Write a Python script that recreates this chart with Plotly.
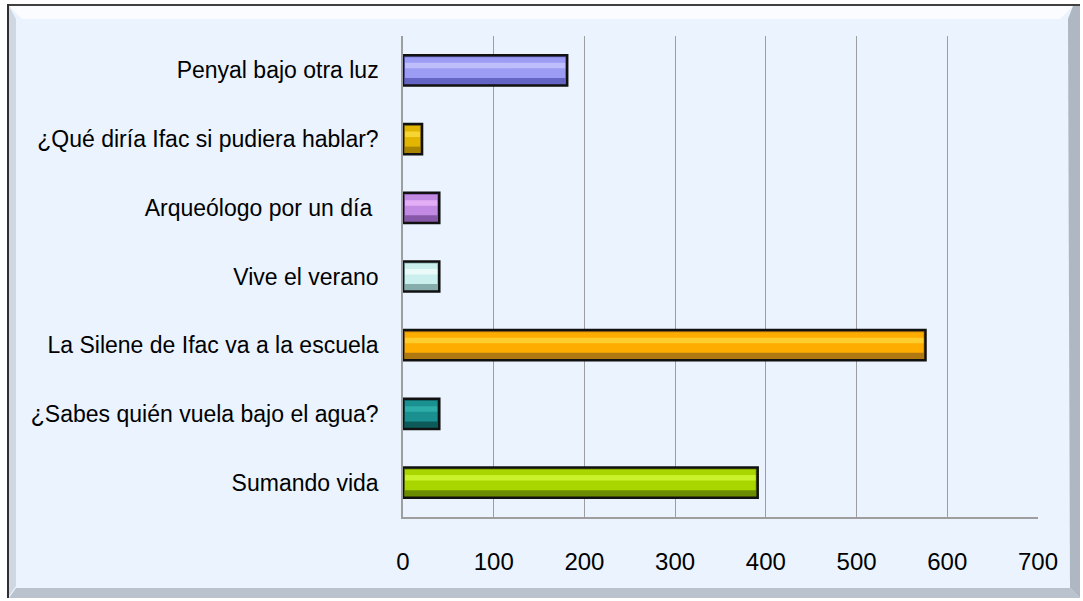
import plotly.graph_objects as go

categories = [
    "Penyal bajo otra luz",
    "¿Qué diría Ifac si pudiera hablar?",
    "Arqueólogo por un día ",
    "Vive el verano",
    "La Silene de Ifac va a la escuela",
    "¿Sabes quién vuela bajo el agua?",
    "Sumando vida",
]
values = [181, 21, 40, 40, 576, 40, 391]
tick_values = [0, 100, 200, 300, 400, 500, 600, 700]

dark = ["#6464C4", "#A88400", "#8858A8", "#86ACAC", "#B07810", "#0C5A5A", "#6C8C00"]
mid = ["#9C9CF4", "#E2B600", "#C28AE2", "#CBEFEC", "#FFAC00", "#1A9090", "#AAD600"]
light = ["#CDCDFF", "#FFE24A", "#F2BEFF", "#F6FFFF", "#FFDC40", "#36BAB2", "#D8FF3C"]

W, H = 1083, 601
L, R, T, B = 403, 1038, 36, 517

def px(x):
    return (x - L) / (R - L)

def py(y):
    return (B - y) / (B - T)

fig = go.Figure()
ins = 2.2
fig.add_trace(go.Bar(
    y=categories, x=values, orientation="h",
    marker=dict(color=dark, line=dict(color="#111111", width=2.5)),
    width=0.44, offset=-0.22, hoverinfo="x+y", showlegend=False,
))
fig.add_trace(go.Bar(
    y=categories, x=[v - 2 * ins for v in values], base=[ins] * len(values), orientation="h",
    marker=dict(color=mid, line=dict(width=0)),
    width=0.30, offset=-0.19, hoverinfo="skip", showlegend=False,
))
fig.add_trace(go.Bar(
    y=categories, x=[v - 2 * ins for v in values], base=[ins] * len(values), orientation="h",
    marker=dict(color=light, line=dict(width=0)),
    width=0.08, offset=-0.11, opacity=0.7, hoverinfo="skip", showlegend=False,
))

shapes = [
    dict(type="rect", xref="paper", yref="paper", x0=px(7), x1=px(1080), y0=py(598), y1=py(4),
         fillcolor="#EAF3FE", line=dict(width=0), layer="below"),
    dict(type="path", xref="paper", yref="paper",
         path=f"M {px(9)},{py(6)} L {px(1073)},{py(6)} L {px(1060)},{py(19)} L {px(22)},{py(19)} Z",
         fillcolor="#FFFFFF", opacity=0.75, line=dict(width=0), layer="below"),
    dict(type="path", xref="paper", yref="paper",
         path=f"M {px(9)},{py(6)} L {px(16)},{py(19)} L {px(16)},{py(586)} L {px(9)},{py(596)} Z",
         fillcolor="#C8D0DC", opacity=0.8, line=dict(width=0), layer="below"),
    dict(type="path", xref="paper", yref="paper",
         path=f"M {px(1073)},{py(6)} L {px(1080)},{py(6)} L {px(1080)},{py(598)} L {px(1070)},{py(588)} L {px(1068)},{py(19)} Z",
         fillcolor="#A8B0BC", opacity=0.9, line=dict(width=0), layer="below"),
    dict(type="path", xref="paper", yref="paper",
         path=f"M {px(16)},{py(588)} L {px(1070)},{py(588)} L {px(1080)},{py(598)} L {px(9)},{py(598)} Z",
         fillcolor="#B4BCC8", opacity=0.9, line=dict(width=0), layer="below"),
    dict(type="line", xref="paper", yref="paper", x0=px(7), x1=px(1080), y0=py(5), y1=py(5),
         line=dict(color="#404040", width=2), layer="below"),
    dict(type="line", xref="paper", yref="paper", x0=px(8), x1=px(8), y0=py(4), y1=py(598),
         line=dict(color="#303030", width=2), layer="below"),
]

font_family = "Liberation Sans, Arial, sans-serif"

fig.update_layout(
    width=W, height=H,
    margin=dict(l=L, r=W - R, t=T, b=H - B, autoexpand=False),
    paper_bgcolor="#FFFFFF",
    plot_bgcolor="rgba(0,0,0,0)",
    barmode="overlay",
    shapes=shapes,
    font=dict(family=font_family, color="#000000"),
    xaxis=dict(
        range=[0, 700], tickvals=tick_values, ticktext=[str(t) for t in tick_values],
        showgrid=True, gridcolor="#9E9E9E", gridwidth=1,
        showline=True, linecolor="#9E9E9E", linewidth=1.5,
        zeroline=False, automargin=False,
        ticks="outside", ticklen=22, tickcolor="rgba(0,0,0,0)",
        tickfont=dict(size=24, family=font_family),
        fixedrange=True,
    ),
    yaxis=dict(
        autorange="reversed", automargin=False,
        showgrid=False, showline=True, linecolor="#9E9E9E", linewidth=1.5,
        ticks="outside", ticklen=18, tickcolor="rgba(0,0,0,0)",
        tickfont=dict(size=23, family=font_family),
        fixedrange=True,
    ),
)

fig.write_html(
    "out.html",
    config={"displayModeBar": False},
    post_script="document.body.style.margin='0';document.body.style.padding='0';",
)
